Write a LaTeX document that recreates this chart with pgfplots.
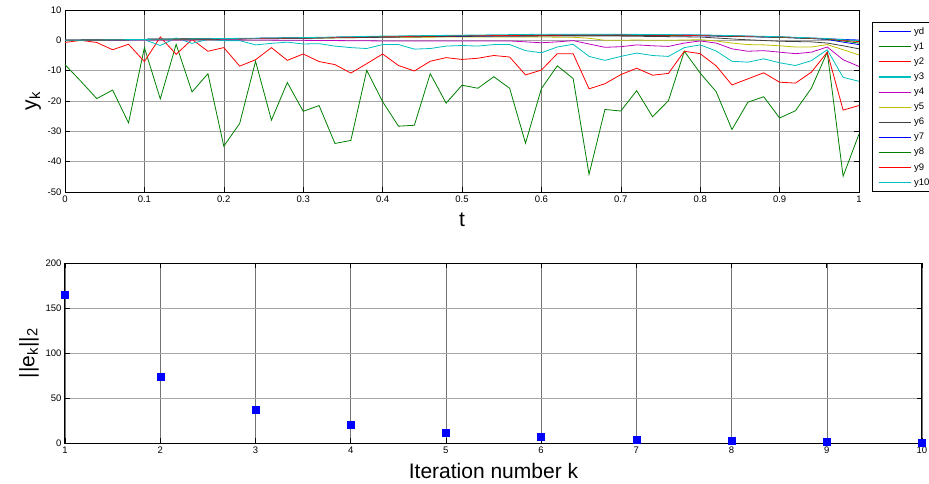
\documentclass[border=0pt]{standalone}
\usepackage{fontspec}
\setmainfont{Liberation Sans}
\usepackage{pgfplots}
\pgfplotsset{compat=1.18}
\definecolor{mb}{rgb}{0,0,1}
\definecolor{mg}{rgb}{0,0.5,0}
\definecolor{mr}{rgb}{1,0,0}
\definecolor{mc}{rgb}{0,0.75,0.75}
\definecolor{mm}{rgb}{0.75,0,0.75}
\definecolor{my}{rgb}{0.75,0.75,0}
\definecolor{mk}{rgb}{0.25,0.25,0.25}
\pgfplotsset{
  mat/.style={
    scale only axis,
    axis line style={line width=1pt},
    tick style={black, line width=0.6pt},
    major tick length=5pt,
    grid=major,
    x grid style={black!55, line width=0.5pt},
    y grid style={black!35, line width=1pt},
    tick label style={font=\fontsize{9.5}{11}\selectfont},
    label style={font=\fontsize{21}{24}\selectfont},
    /pgf/number format/assume math mode=true,
  }
}
\begin{document}
\begin{tikzpicture}
\begin{axis}[mat,
  at={(65pt,291pt)}, anchor=south west, width=794pt, height=182pt,
  xmin=0, xmax=1, ymin=-50, ymax=10,
  xtick={0,0.1,0.2,0.3,0.4,0.5,0.6,0.7,0.8,0.9,1},
  ytick={-50,-40,-30,-20,-10,0,10},
  xlabel={t}, ylabel={y\textsubscript{k}},
  xlabel style={yshift=-4pt},
  every axis plot/.append style={line width=0.8pt},
  legend style={at={(1,1)}, anchor=north west, xshift=13pt, yshift=-12pt,
    font=\fontsize{9.5}{11}\selectfont, line width=0.8pt,
    row sep=3pt, inner xsep=5.5pt, inner ysep=3pt,
    nodes={inner xsep=3pt}},
  legend cell align=left,
  legend image code/.code={\draw[#1, line width=1.2pt] (0pt,0pt) -- (32pt,0pt);},
]
\addplot[draw=mb] coordinates {(0,0) (0.1,0.3) (0.2,0.5) (0.3,0.8) (0.4,1.2) (0.5,1.5) (0.6,1.7) (0.7,1.8) (0.8,1.7) (0.9,1.1) (0.95,0.6) (1,0.1)};
\addlegendentry{yd}
\addplot[draw=mg] coordinates {(0,-8.0) (0.02,-13.5) (0.04,-19.2) (0.06,-16.4) (0.08,-27.2) (0.10,-2.4) (0.12,-19.3) (0.14,-1.3) (0.16,-17.0) (0.18,-11.0) (0.20,-34.9) (0.22,-27.4) (0.24,-6.9) (0.26,-26.3) (0.28,-13.9) (0.30,-23.4) (0.32,-21.5) (0.34,-34.0) (0.36,-33.0) (0.38,-9.9) (0.40,-20.2) (0.42,-28.3) (0.44,-28.0) (0.46,-11.0) (0.48,-20.7) (0.50,-14.8) (0.52,-15.8) (0.54,-12.0) (0.56,-15.8) (0.58,-33.9) (0.60,-15.9) (0.62,-8.4) (0.64,-12.6) (0.66,-44.2) (0.68,-22.8) (0.70,-23.3) (0.72,-16.6) (0.74,-25.2) (0.76,-19.9) (0.78,-3.6) (0.80,-10.8) (0.82,-16.9) (0.84,-29.4) (0.86,-20.4) (0.88,-18.6) (0.90,-25.6) (0.92,-23.2) (0.94,-15.8) (0.96,-3.9) (0.98,-44.8) (1.00,-30.9)};
\addlegendentry{y1}
\addplot[draw=mr] coordinates {(0,-0.7) (0.02,0.0) (0.04,-0.7) (0.06,-3.1) (0.08,-1.3) (0.10,-7.0) (0.12,1.1) (0.14,-4.6) (0.16,0.3) (0.18,-3.6) (0.20,-2.4) (0.22,-8.5) (0.24,-6.4) (0.26,-2.4) (0.28,-6.6) (0.30,-4.5) (0.32,-7.0) (0.34,-8.0) (0.36,-10.8) (0.38,-7.7) (0.40,-4.5) (0.42,-8.3) (0.44,-10.1) (0.46,-6.9) (0.48,-5.7) (0.50,-6.3) (0.52,-5.9) (0.54,-5.0) (0.56,-5.5) (0.58,-11.4) (0.60,-9.8) (0.62,-4.4) (0.64,-4.4) (0.66,-16.0) (0.68,-14.3) (0.70,-11.3) (0.72,-9.2) (0.74,-11.5) (0.76,-10.9) (0.78,-3.6) (0.80,-4.4) (0.82,-8.4) (0.84,-14.7) (0.86,-12.7) (0.88,-10.7) (0.90,-13.8) (0.92,-14.1) (0.94,-10.5) (0.96,-3.9) (0.98,-23.0) (1.00,-21.5)};
\addlegendentry{y2}
\addplot[draw=mc] coordinates {(0,0.0) (0.02,0.0) (0.04,0.1) (0.06,0.0) (0.08,0.1) (0.10,0.2) (0.12,-1.7) (0.14,0.8) (0.16,-1.0) (0.18,0.3) (0.20,-0.1) (0.22,-0.1) (0.24,-1.5) (0.26,-1.0) (0.28,-0.6) (0.30,-1.2) (0.32,-1.1) (0.34,-1.9) (0.36,-2.4) (0.38,-2.7) (0.40,-1.4) (0.42,-1.4) (0.44,-2.9) (0.46,-2.7) (0.48,-1.9) (0.50,-1.7) (0.52,-1.9) (0.54,-1.4) (0.56,-1.4) (0.58,-3.4) (0.60,-4.1) (0.62,-2.2) (0.64,-1.3) (0.66,-5.3) (0.68,-6.6) (0.70,-5.3) (0.72,-4.2) (0.74,-5.0) (0.76,-5.3) (0.78,-2.4) (0.80,-1.5) (0.82,-3.5) (0.84,-6.9) (0.86,-7.2) (0.88,-6.1) (0.90,-7.4) (0.92,-8.3) (0.94,-6.7) (0.96,-3.1) (0.98,-12.2) (1.00,-13.5)};
\addlegendentry{y3}
\addplot[draw=mm] coordinates {(0,0) (0.1,0.1) (0.2,0.2) (0.3,0) (0.4,-0.2) (0.5,-0.2) (0.56,-0.2) (0.58,-0.5) (0.60,-0.8) (0.62,-0.5) (0.64,-0.1) (0.66,-1.2) (0.68,-2.3) (0.70,-2.1) (0.72,-1.5) (0.74,-1.8) (0.76,-2.0) (0.78,-0.9) (0.80,-0.2) (0.82,-0.9) (0.84,-2.8) (0.86,-3.6) (0.88,-3.4) (0.90,-3.9) (0.92,-4.4) (0.94,-3.9) (0.96,-2.2) (0.98,-6.4) (1,-8.6)};
\addlegendentry{y4}
\addplot[draw=my] coordinates {(0,0) (0.1,0.3) (0.2,0.5) (0.3,0.7) (0.4,1.0) (0.5,1.1) (0.6,1.1) (0.64,1.0) (0.66,0.7) (0.68,0.0) (0.70,0.0) (0.72,0.1) (0.74,0.0) (0.76,0.0) (0.78,0.1) (0.80,0.2) (0.82,-0.2) (0.84,-0.9) (0.86,-1.4) (0.88,-1.5) (0.90,-1.8) (0.92,-2.2) (0.94,-2.2) (0.96,-1.4) (0.98,-3.1) (1,-4.8)};
\addlegendentry{y5}
\addplot[draw=mk] coordinates {(0,0) (0.1,0.3) (0.2,0.5) (0.3,0.7) (0.4,1.0) (0.5,1.3) (0.6,1.4) (0.7,1.4) (0.8,1.1) (0.85,0.3) (0.9,-0.3) (0.94,-0.5) (0.96,-0.9) (0.98,-1.8) (1,-2.8)};
\addlegendentry{y6}
\addplot[draw=mb] coordinates {(0,0) (0.1,0.3) (0.2,0.5) (0.3,0.8) (0.4,1.2) (0.5,1.4) (0.6,1.6) (0.7,1.7) (0.8,1.5) (0.9,1.0) (0.94,0.6) (0.96,0.3) (0.98,-0.6) (1,-1.4)};
\addlegendentry{y7}
\addplot[draw=mg] coordinates {(0,0) (0.1,0.3) (0.2,0.5) (0.3,0.8) (0.4,1.2) (0.5,1.5) (0.6,1.7) (0.7,1.7) (0.8,1.6) (0.9,1.0) (0.96,0.4) (0.98,-0.2) (1,-0.9)};
\addlegendentry{y8}
\addplot[draw=mr] coordinates {(0,0) (0.1,0.3) (0.2,0.5) (0.3,0.8) (0.4,1.2) (0.5,1.5) (0.6,1.7) (0.7,1.8) (0.8,1.6) (0.9,1.1) (0.96,0.5) (0.98,0.0) (1,-0.4)};
\addlegendentry{y9}
\addplot[draw=mc] coordinates {(0,0) (0.1,0.3) (0.2,0.6) (0.3,0.9) (0.4,1.4) (0.5,1.7) (0.6,2.0) (0.7,2.0) (0.8,1.8) (0.9,1.2) (0.96,0.6) (0.98,0.2) (1,-0.1)};
\addlegendentry{y10}
\end{axis}
\begin{axis}[mat,
  at={(65pt,40pt)}, anchor=south west, width=857pt, height=180pt,
  xmin=1, xmax=10, ymin=0, ymax=200,
  xtick={1,2,3,4,5,6,7,8,9,10},
  ytick={0,50,100,150,200},
  xlabel={Iteration number k}, ylabel={||e\textsubscript{k}||\textsubscript{2}},
  xlabel style={yshift=-3pt},
  clip=false,
]
\addplot[only marks, mark=square*, mark size=3.5pt, color=mb] coordinates {(1,165) (2,73.3) (3,37.1) (4,20.8) (5,11.9) (6,6.7) (7,4.1) (8,2.2) (9,1.9) (10,0.8)};
\end{axis}
\pgfresetboundingbox
\useasboundingbox (0,0) rectangle (929pt,483pt);
\end{tikzpicture}
\end{document}
